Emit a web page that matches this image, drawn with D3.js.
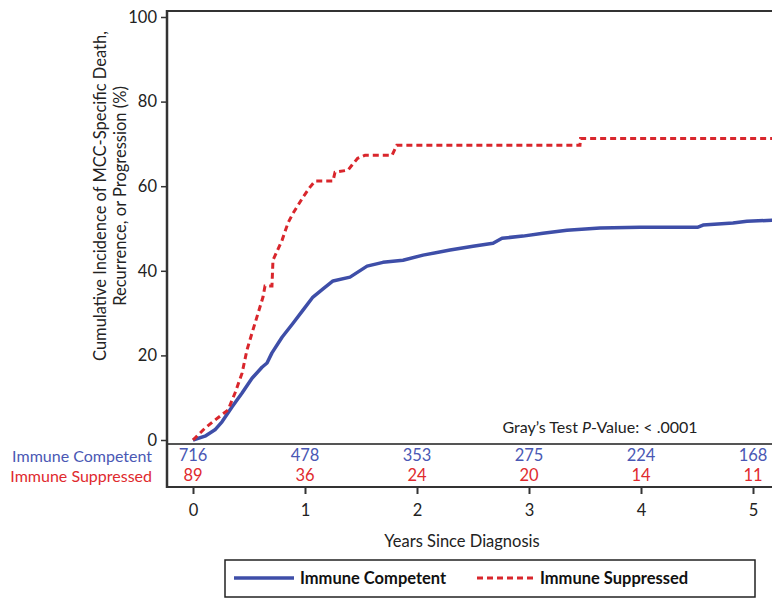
<!DOCTYPE html>
<html>
<head>
<meta charset="utf-8">
<script src="https://cdn.jsdelivr.net/npm/d3@7"></script>
<style>
  body { margin: 0; background: #fff; }
  svg { display: block; font-family: Lato, "Open Sans", sans-serif; }
</style>
</head>
<body>
<div id="chart"></div>
<script>
// years since diagnosis / cumulative incidence (%)
var competentT = [0, 0.107, 0.196, 0.259, 0.348, 0.438, 0.527, 0.616, 0.661, 0.705, 0.795, 0.893, 0.982, 1.071, 1.161, 1.25, 1.402, 1.554, 1.696, 1.875, 2.054, 2.295, 2.5, 2.679, 2.759, 2.946, 3.125, 3.339, 3.634, 3.991, 4.509, 4.554, 4.821, 4.946, 5.2];
var competentV = [0, 0.9, 2.4, 4.3, 7.8, 11.1, 14.6, 17.2, 18.2, 20.6, 24.3, 27.6, 30.7, 33.8, 35.7, 37.6, 38.5, 41.1, 42.0, 42.5, 43.7, 44.9, 45.8, 46.5, 47.7, 48.2, 48.9, 49.6, 50.1, 50.3, 50.3, 50.8, 51.3, 51.7, 52.0];

var suppressedT = [0, 0.107, 0.196, 0.313, 0.375, 0.438, 0.482, 0.527, 0.571, 0.625, 0.643, 0.705, 0.714, 0.795, 0.848, 0.893, 0.938, 0.982, 1.045, 1.089, 1.25, 1.268, 1.384, 1.42, 1.47, 1.536, 1.777, 1.82, 3.455, 3.46, 5.2];
var suppressedV = [0, 2.8, 4.7, 7.1, 11.1, 15.8, 21.3, 25.3, 29.1, 33.8, 36.4, 36.4, 42.5, 47.2, 51.3, 53.6, 55.5, 57.4, 59.8, 61.2, 61.2, 63.3, 63.8, 65.0, 66.6, 67.3, 67.3, 69.7, 69.7, 71.3, 71.3];

var riskYears = [0, 1, 2, 3, 4, 5];
var riskCompetent = [716, 478, 353, 275, 224, 168];
var riskSuppressed = [89, 36, 24, 20, 14, 11];

var yTicks = [0, 20, 40, 60, 80, 100];
var xTicks = [0, 1, 2, 3, 4, 5];

var width = 772, height = 599;
var blue = '#3e4ea8', red = '#d9262c';
var blueText = '#4a58b4', redText = '#e02a2e';
var fontSize = '16.5px';

var svg = d3.select('#chart').append('svg')
  .attr('width', width)
  .attr('height', height);

var x = d3.scaleLinear().domain([0, 5]).range([193, 753]);
var y = d3.scaleLinear().domain([0, 100]).range([440, 17]);

var plotLeft = 167, plotTop = 11, plotBottom = 444, tableBottom = 487;

//Frame
svg.append('line').attr('x1', plotLeft).attr('x2', width).attr('y1', plotTop).attr('y2', plotTop)
  .attr('stroke', '#333').attr('stroke-width', 2);
svg.append('line').attr('x1', plotLeft).attr('x2', width).attr('y1', plotBottom).attr('y2', plotBottom)
  .attr('stroke', '#555').attr('stroke-width', 2);
svg.append('line').attr('x1', plotLeft).attr('x2', width).attr('y1', tableBottom).attr('y2', tableBottom)
  .attr('stroke', '#333').attr('stroke-width', 2);
svg.append('line').attr('x1', plotLeft).attr('x2', plotLeft).attr('y1', plotTop - 1).attr('y2', tableBottom + 1)
  .attr('stroke', '#333').attr('stroke-width', 2.5);

//Y axis
var yAxis = svg.append('g')
  .attr('transform', 'translate(' + plotLeft + ',0)')
  .call(d3.axisLeft(y).tickValues(yTicks).tickSize(6).tickPadding(4));
yAxis.select('.domain').remove();
yAxis.selectAll('line').attr('stroke', '#333').attr('stroke-width', 1.5);
yAxis.selectAll('text').attr('fill', '#222').style('font-size', fontSize).style('font-family', 'Lato, sans-serif');

//X axis
var xAxis = svg.append('g')
  .attr('transform', 'translate(0,' + tableBottom + ')')
  .call(d3.axisBottom(x).tickValues(xTicks).tickFormat(d3.format('d')).tickSize(7).tickPadding(10));
xAxis.select('.domain').remove();
xAxis.selectAll('line').attr('stroke', '#333').attr('stroke-width', 2);
xAxis.selectAll('text').attr('fill', '#222').style('font-size', fontSize).style('font-family', 'Lato, sans-serif');

//Axis titles
svg.append('text')
  .attr('transform', 'translate(106,196) rotate(-90)')
  .attr('text-anchor', 'middle')
  .attr('fill', '#222')
  .style('font-size', fontSize)
  .text('Cumulative Incidence of MCC-Specific Death,');
svg.append('text')
  .attr('transform', 'translate(126,196) rotate(-90)')
  .attr('text-anchor', 'middle')
  .attr('fill', '#222')
  .style('font-size', fontSize)
  .text('Recurrence, or Progression (%)');
svg.append('text')
  .attr('x', 462).attr('y', 547)
  .attr('text-anchor', 'middle')
  .attr('fill', '#222')
  .style('font-size', fontSize)
  .text('Years Since Diagnosis');

//Curves
svg.append('clipPath').attr('id', 'plotclip')
  .append('rect').attr('x', plotLeft).attr('y', plotTop).attr('width', width - plotLeft).attr('height', plotBottom - plotTop);

var line = d3.line()
  .x(function(d) { return x(d[0]); })
  .y(function(d) { return y(d[1]); });

var competent = competentT.map(function(t, i) { return [t, competentV[i]]; });
var suppressed = suppressedT.map(function(t, i) { return [t, suppressedV[i]]; });

var curves = svg.append('g').attr('clip-path', 'url(#plotclip)');
curves.append('path')
  .datum(competent)
  .attr('d', line)
  .attr('fill', 'none')
  .attr('stroke', blue)
  .attr('stroke-width', 3.5)
  .attr('stroke-linejoin', 'round');
curves.append('path')
  .datum(suppressed)
  .attr('d', line)
  .attr('fill', 'none')
  .attr('stroke', red)
  .attr('stroke-width', 3)
  .attr('stroke-dasharray', '6,4');

//P value
var pText = svg.append('text')
  .attr('x', 600).attr('y', 433)
  .attr('text-anchor', 'middle')
  .attr('fill', '#222')
  .style('font-size', '16px');
pText.append('tspan').text('Gray\u2019s Test ');
pText.append('tspan').style('font-style', 'italic').text('P');
pText.append('tspan').text('-Value: < .0001');

//Risk table
svg.append('text')
  .attr('x', 152).attr('y', 462)
  .attr('text-anchor', 'end')
  .attr('fill', blueText)
  .style('font-size', '16px')
  .text('Immune Competent');
svg.append('text')
  .attr('x', 152).attr('y', 482)
  .attr('text-anchor', 'end')
  .attr('fill', redText)
  .style('font-size', '16px')
  .text('Immune Suppressed');

svg.selectAll('.risk-c')
  .data(riskCompetent)
  .enter()
  .append('text')
  .attr('x', function(d, i) { return x(riskYears[i]); })
  .attr('y', 461)
  .attr('text-anchor', 'middle')
  .attr('fill', blueText)
  .style('font-size', fontSize)
  .text(function(d) { return d; });

svg.selectAll('.risk-s')
  .data(riskSuppressed)
  .enter()
  .append('text')
  .attr('x', function(d, i) { return x(riskYears[i]); })
  .attr('y', 481)
  .attr('text-anchor', 'middle')
  .attr('fill', redText)
  .style('font-size', fontSize)
  .text(function(d) { return d; });

//Legend
var legend = svg.append('g');
legend.append('rect')
  .attr('x', 225).attr('y', 560)
  .attr('width', 530).attr('height', 37)
  .attr('fill', 'none')
  .attr('stroke', '#222')
  .attr('stroke-width', 1.5);
legend.append('line')
  .attr('x1', 234).attr('x2', 294).attr('y1', 578).attr('y2', 578)
  .attr('stroke', blue).attr('stroke-width', 3.5);
legend.append('text')
  .attr('x', 300).attr('y', 584)
  .attr('fill', '#111')
  .style('font-size', fontSize)
  .style('font-weight', 'bold')
  .text('Immune Competent');
legend.append('line')
  .attr('x1', 477).attr('x2', 533).attr('y1', 578).attr('y2', 578)
  .attr('stroke', red).attr('stroke-width', 3)
  .attr('stroke-dasharray', '6,4');
legend.append('text')
  .attr('x', 540).attr('y', 584)
  .attr('fill', '#111')
  .style('font-size', fontSize)
  .style('font-weight', 'bold')
  .text('Immune Suppressed');
</script>
</body>
</html>
